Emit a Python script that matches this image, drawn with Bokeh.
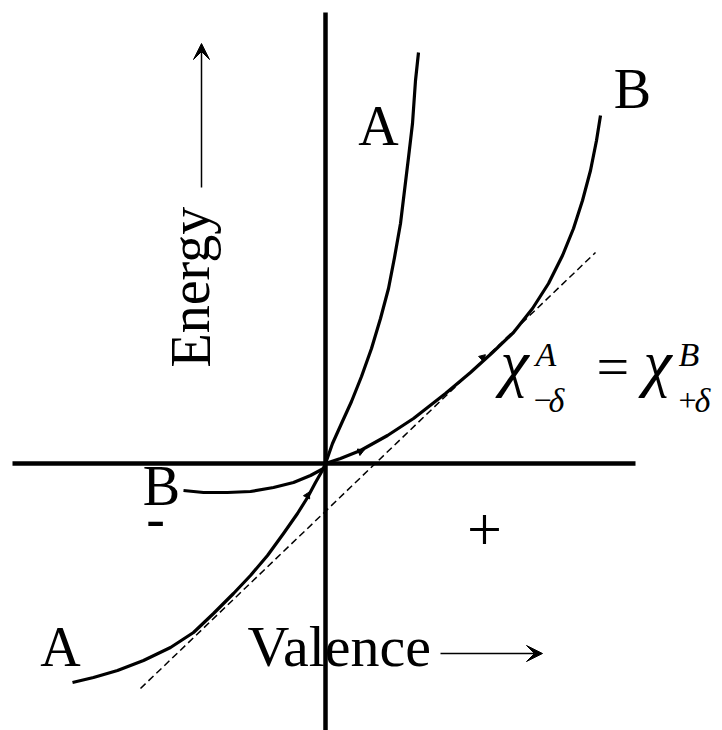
from bokeh.plotting import figure
from bokeh.models import Range1d, Label, Arrow, VeeHead
from bokeh.embed import file_html
from bokeh.resources import INLINE

# Curve A: steep energy curve (valence, energy)
valence_A = [-2.53, -2.32, -2.08, -1.82, -1.55, -1.32, -1.12, -0.92, -0.75, -0.58, -0.42,
             -0.28, -0.18, -0.10, -0.02, 0.0, 0.07, 0.16, 0.26, 0.36, 0.46, 0.55, 0.63,
             0.69, 0.75, 0.79, 0.83, 0.87, 0.90, 0.93]
energy_A = [-2.19, -2.14, -2.07, -1.97, -1.84, -1.69, -1.50, -1.30, -1.12, -0.92, -0.70,
            -0.50, -0.34, -0.19, -0.05, 0.0, 0.20, 0.40, 0.62, 0.87, 1.15, 1.45, 1.75,
            2.06, 2.40, 2.73, 3.06, 3.40, 3.83, 4.11]

# Curve B: shallow energy curve
valence_B = [-1.42, -1.22, -0.98, -0.75, -0.52, -0.32, -0.15, -0.02, 0.0, 0.15, 0.35,
             0.62, 0.88, 1.20, 1.45, 1.67, 1.88, 2.07, 2.23, 2.37, 2.48, 2.57, 2.65,
             2.71, 2.75]
energy_B = [-0.27, -0.29, -0.29, -0.28, -0.24, -0.19, -0.12, -0.05, 0.0, 0.05, 0.13,
            0.28, 0.45, 0.70, 0.91, 1.11, 1.31, 1.55, 1.80, 2.08, 2.35, 2.63, 2.93,
            3.23, 3.48]

# Common tangent (equal electronegativity)
valence_T = [-1.85, 2.70]
energy_T = [-2.25, 2.11]

# small direction marks on the curves
mark_x = [-0.18, 0.35, 1.57]
mark_y = [-0.32, 0.12, 1.06]
mark_angle = [-0.48, -1.19, -0.80]

FONT = "Liberation Serif"

p = figure(width=722, height=730, x_range=Range1d(-3.25, 3.97), y_range=Range1d(-2.67, 4.63),
           x_axis_type=None, y_axis_type=None, output_backend="svg", toolbar_location=None,
           min_border=0)
p.grid.visible = False
p.outline_line_color = None
p.background_fill_color = "white"
p.border_fill_color = "white"

# coordinate axes through the origin
p.segment(x0=[-3.13], y0=[0], x1=[3.10], y1=[0], line_color="black", line_width=4.5)
p.segment(x0=[0], y0=[-2.70], x1=[0], y1=[4.51], line_color="black", line_width=4.5)

# tangent line and the two curves
p.line(valence_T, energy_T, line_color="black", line_width=1.5, line_dash="7 4")
p.line(valence_A, energy_A, line_color="black", line_width=3.2, line_join="round")
p.line(valence_B, energy_B, line_color="black", line_width=3.2, line_join="round")
p.scatter(mark_x, mark_y, marker="triangle", size=7, angle=mark_angle,
          fill_color="black", line_color="black")

# axis arrows
p.add_layout(Arrow(end=VeeHead(size=16, fill_color="black", line_color="black"),
                   x_start=-1.24, y_start=2.76, x_end=-1.24, y_end=4.20,
                   line_color="black", line_width=1.5))
p.add_layout(Arrow(end=VeeHead(size=16, fill_color="black", line_color="black"),
                   x_start=1.15, y_start=-1.90, x_end=2.17, y_end=-1.90,
                   line_color="black", line_width=1.5))


def lab(x, y, text, size=56, align="left", style="normal", angle=0.0):
    p.add_layout(Label(x=x, y=y, text=text, text_font=FONT, text_font_size=f"{size}px",
                       text_align=align, text_baseline="alphabetic", text_font_style=style,
                       angle=angle, text_color="black"))


lab(0.53, 3.38, "A", align="center")
lab(3.07, 3.75, "B", align="center")
lab(-1.64, -0.22, "B", align="center")
lab(-2.65, -1.83, "A", align="center")
lab(-1.70, -0.54, "-", align="center")
lab(1.59, -0.66, "+", size=62, align="center")
lab(-0.78, -1.83, "Valence", size=58)
lab(-1.35, 0.96, "Energy", angle=1.5708)

# chi^A_{-delta} = chi^B_{+delta}
lab(1.75, 1.01, "χ", size=64, style="italic")
lab(2.10, 1.09, "A", size=34, style="italic")
lab(2.08, 0.63, "−", size=32)
lab(2.23, 0.63, "δ", size=34, style="italic")
lab(2.71, 0.97, "=", size=58)
lab(3.18, 1.01, "χ", size=64, style="italic")
lab(3.53, 1.09, "B", size=34, style="italic")
lab(3.53, 0.63, "+", size=32)
lab(3.69, 0.63, "δ", size=34, style="italic")

open("out.html", "w").write(file_html(p, INLINE))
